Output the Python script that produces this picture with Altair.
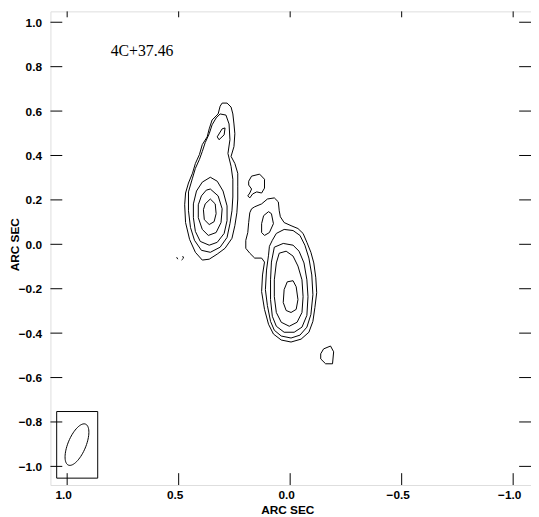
import altair as alt
import numpy as np
import pandas as pd

# ---- contour polylines (arcsec offsets: x = RA offset, y = Dec offset) ----
N1_x = [0.305, 0.283, 0.265, 0.257, 0.252, 0.248, 0.252, 0.265, 0.248, 0.235, 0.235, 0.235, 0.239, 0.248, 0.261, 0.292, 0.327, 0.363, 0.394, 0.425, 0.451, 0.469, 0.473, 0.469, 0.456, 0.438, 0.425, 0.407, 0.394, 0.372, 0.363, 0.350, 0.323, 0.314]
N1_y = [0.636, 0.636, 0.618, 0.587, 0.542, 0.498, 0.440, 0.396, 0.364, 0.320, 0.262, 0.204, 0.142, 0.084, 0.027, -0.018, -0.044, -0.067, -0.071, -0.036, 0.022, 0.098, 0.178, 0.231, 0.276, 0.320, 0.364, 0.404, 0.449, 0.484, 0.520, 0.560, 0.587, 0.622]

N2_x = [0.314, 0.288, 0.274, 0.270, 0.279, 0.265, 0.257, 0.257, 0.261, 0.270, 0.283, 0.314, 0.358, 0.398, 0.429, 0.447, 0.456, 0.456, 0.438, 0.425, 0.407, 0.394, 0.381, 0.363, 0.350, 0.332]
N2_y = [0.587, 0.582, 0.542, 0.471, 0.409, 0.351, 0.293, 0.213, 0.151, 0.093, 0.031, -0.013, -0.036, -0.027, 0.018, 0.076, 0.151, 0.236, 0.298, 0.342, 0.382, 0.418, 0.458, 0.498, 0.538, 0.569]

N3_x = [0.358, 0.327, 0.301, 0.283, 0.283, 0.296, 0.327, 0.363, 0.403, 0.425, 0.434, 0.434, 0.420, 0.394]
N3_y = [0.302, 0.284, 0.240, 0.173, 0.107, 0.049, 0.009, -0.004, 0.013, 0.058, 0.120, 0.182, 0.240, 0.280]

N4_x = [0.358, 0.323, 0.305, 0.310, 0.332, 0.367, 0.394, 0.412, 0.412, 0.398, 0.376]
N4_y = [0.249, 0.218, 0.160, 0.098, 0.053, 0.040, 0.067, 0.120, 0.178, 0.218, 0.244]

N5_x = [0.358, 0.336, 0.332, 0.341, 0.363, 0.385, 0.389, 0.381]
N5_y = [0.204, 0.182, 0.138, 0.102, 0.089, 0.111, 0.156, 0.182]

NI_x = [0.305, 0.292, 0.296, 0.319, 0.327]
NI_y = [0.520, 0.524, 0.493, 0.471, 0.484]

NF1_x = [0.482, 0.478, 0.487]
NF1_y = [-0.053, -0.062, -0.071]
NF2_x = [0.509, 0.504]
NF2_y = [-0.058, -0.067]

SA_x = [0.186, 0.173, 0.137, 0.115, 0.115, 0.128, 0.150, 0.168, 0.181, 0.190, 0.181, 0.173, 0.186]
SA_y = [0.284, 0.307, 0.316, 0.293, 0.253, 0.231, 0.236, 0.227, 0.209, 0.218, 0.231, 0.249, 0.267]

S1_x = [0.173, 0.159, 0.128, 0.102, 0.071, 0.053, 0.049, 0.044, 0.027, -0.004, -0.035, -0.058, -0.075, -0.093, -0.106, -0.115, -0.119, -0.111, -0.102, -0.084, -0.049, -0.004, 0.040, 0.075, 0.097, 0.115, 0.128, 0.124, 0.115, 0.128, 0.159, 0.181, 0.199, 0.199, 0.190, 0.186, 0.181]
S1_y = [0.160, 0.169, 0.182, 0.204, 0.209, 0.191, 0.151, 0.124, 0.098, 0.084, 0.071, 0.049, 0.009, -0.036, -0.084, -0.151, -0.218, -0.284, -0.347, -0.396, -0.427, -0.440, -0.431, -0.404, -0.360, -0.293, -0.213, -0.138, -0.080, -0.062, -0.062, -0.040, -0.018, 0.018, 0.053, 0.098, 0.142]

SI_x = [0.119, 0.097, 0.084, 0.075, 0.093, 0.115, 0.128, 0.128]
SI_y = [0.129, 0.147, 0.138, 0.093, 0.053, 0.040, 0.053, 0.093]

S2_x = [0.080, 0.062, 0.027, -0.013, -0.044, -0.066, -0.084, -0.097, -0.102, -0.093, -0.075, -0.044, -0.004, 0.040, 0.071, 0.088, 0.102, 0.111, 0.106, 0.097, 0.093]
S2_y = [0.018, 0.049, 0.067, 0.062, 0.040, -0.004, -0.062, -0.138, -0.227, -0.316, -0.373, -0.409, -0.422, -0.413, -0.387, -0.347, -0.276, -0.204, -0.116, -0.049, -0.009]

S3_x = [0.071, 0.031, -0.013, -0.040, -0.062, -0.075, -0.080, -0.075, -0.053, -0.018, 0.027, 0.062, 0.080, 0.088, 0.088, 0.084]
S3_y = [-0.013, 0.004, -0.004, -0.031, -0.084, -0.160, -0.236, -0.320, -0.373, -0.396, -0.396, -0.369, -0.324, -0.249, -0.160, -0.080]

S4_x = [0.049, 0.018, -0.013, -0.035, -0.053, -0.058, -0.053, -0.031, 0.004, 0.040, 0.062, 0.071, 0.071, 0.062]
S4_y = [-0.040, -0.031, -0.053, -0.098, -0.160, -0.236, -0.307, -0.351, -0.369, -0.351, -0.307, -0.236, -0.160, -0.084]

S5_x = [0.013, -0.013, -0.027, -0.035, -0.027, -0.004, 0.018, 0.031, 0.027]
S5_y = [-0.169, -0.164, -0.191, -0.249, -0.293, -0.307, -0.298, -0.262, -0.204]

SB_x = [-0.150, -0.181, -0.195, -0.190, -0.159, -0.137, -0.137]
SB_y = [-0.471, -0.458, -0.484, -0.538, -0.538, -0.516, -0.493]

# ---- beam (restoring beam) ----
BEAM_CENTER = (0.956, -0.902)
BEAM_MAJ = 0.200
BEAM_MIN = 0.080
BEAM_PA = -22.7  # degrees
BOX_X = [1.047, 0.863]
BOX_Y = [-0.753, -1.053]

# ---- axes ----
X_TICKS = [1.0, 0.5, 0.0, -0.5, -1.0]
Y_TICKS = [-1.0, -0.8, -0.6, -0.4, -0.2, 0.0, 0.2, 0.4, 0.6, 0.8, 1.0]
X_DOMAIN = [1.075, -1.080]
Y_DOMAIN = [-1.084, 1.049]
SOURCE = "4C+37.46"
SOURCE_POS = (0.805, 0.849)

W, H = 487, 480

closed = {
    "N1": (N1_x, N1_y), "N2": (N2_x, N2_y), "N3": (N3_x, N3_y), "N4": (N4_x, N4_y),
    "N5": (N5_x, N5_y), "NI": (NI_x, NI_y), "SA": (SA_x, SA_y), "S1": (S1_x, S1_y),
    "SI": (SI_x, SI_y), "S2": (S2_x, S2_y), "S3": (S3_x, S3_y), "S4": (S4_x, S4_y),
    "S5": (S5_x, S5_y), "SB": (SB_x, SB_y),
}
opened = {"NF1": (NF1_x, NF1_y), "NF2": (NF2_x, NF2_y)}

rows = []
for name, (xs, ys) in closed.items():
    pts = list(zip(xs, ys)) + [(xs[0], ys[0])]
    for i, (x, y) in enumerate(pts):
        rows.append({"x": x, "y": y, "id": name, "i": i})
for name, (xs, ys) in opened.items():
    for i, (x, y) in enumerate(zip(xs, ys)):
        rows.append({"x": x, "y": y, "id": name, "i": i})

# beam ellipse from its parameters
t = np.linspace(0, 2 * np.pi, 73)
th = np.deg2rad(-BEAM_PA)
a, b = BEAM_MAJ / 2, BEAM_MIN / 2
u, v = a * np.cos(t), b * np.sin(t)
ex = BEAM_CENTER[0] - u * np.sin(th) + v * np.cos(th)
ey = BEAM_CENTER[1] + u * np.cos(th) + v * np.sin(th)
for i, (x, y) in enumerate(zip(ex, ey)):
    rows.append({"x": float(x), "y": float(y), "id": "beam", "i": i})

df = pd.DataFrame(rows)

xs_ = alt.Scale(domain=X_DOMAIN, nice=False, zero=False)
ys_ = alt.Scale(domain=Y_DOMAIN, nice=False, zero=False)
lab = dict(labelFont="Liberation Sans", labelFontWeight="bold", labelFontSize=12,
           labelColor="black", titleFont="Liberation Sans", titleFontWeight="bold",
           titleFontSize=12, titleColor="black", ticks=False, tickSize=0, domain=False, grid=False)
xaxis = alt.Axis(values=X_TICKS, format=".1f", labelPadding=5, labelOffset=-4,
                 titleY=20, titleX=240, titleBaseline="top", **lab)
yaxis = alt.Axis(values=Y_TICKS, format=".1f", labelPadding=9,
                 titleX=-29, titleY=236, titleAngle=-90, titleBaseline="bottom", **lab)

X = alt.X("x:Q", scale=xs_, axis=xaxis, title="ARC SEC")
Y = alt.Y("y:Q", scale=ys_, axis=yaxis, title="ARC SEC")

lines = alt.Chart(df).mark_line(color="black", strokeWidth=1).encode(
    x=X, y=Y, detail="id:N", order="i:Q")

box = alt.Chart(pd.DataFrame({"x": [BOX_X[0]], "x2": [BOX_X[1]],
                              "y": [BOX_Y[0]], "y2": [BOX_Y[1]]})).mark_rect(
    fillOpacity=0, stroke="black", strokeWidth=1).encode(
    x=X, x2="x2:Q", y=Y, y2="y2:Q")

label = alt.Chart(pd.DataFrame({"x": [SOURCE_POS[0]], "y": [SOURCE_POS[1]], "t": [SOURCE]})).mark_text(
    font="Liberation Serif", fontSize=16, align="left", baseline="alphabetic", color="black").encode(
    x=X, y=Y, text="t:N")

dx = pd.DataFrame({"x": X_TICKS})
dy = pd.DataFrame({"y": Y_TICKS})
tb = alt.Chart(dx).mark_rule(color="black").encode(x=X, y=alt.value(H), y2=alt.value(H - 12))
tt = alt.Chart(dx).mark_rule(color="black").encode(x=X, y=alt.value(0), y2=alt.value(6))
tl = alt.Chart(dy).mark_rule(color="black").encode(y=Y, x=alt.value(0), x2=alt.value(12))
tr = alt.Chart(dy).mark_rule(color="black").encode(y=Y, x=alt.value(W), x2=alt.value(W - 12))

chart = alt.layer(lines, box, label, tb, tt, tl, tr).properties(
    width=W, height=H,
    autosize=alt.AutoSizeParams(type="none"),
    padding={"left": 43, "top": 0, "right": 0, "bottom": 30},
).configure_view(stroke="black", strokeWidth=1).configure(background="white")

chart.save("out.html", embed_options={"renderer": "svg", "actions": False})
